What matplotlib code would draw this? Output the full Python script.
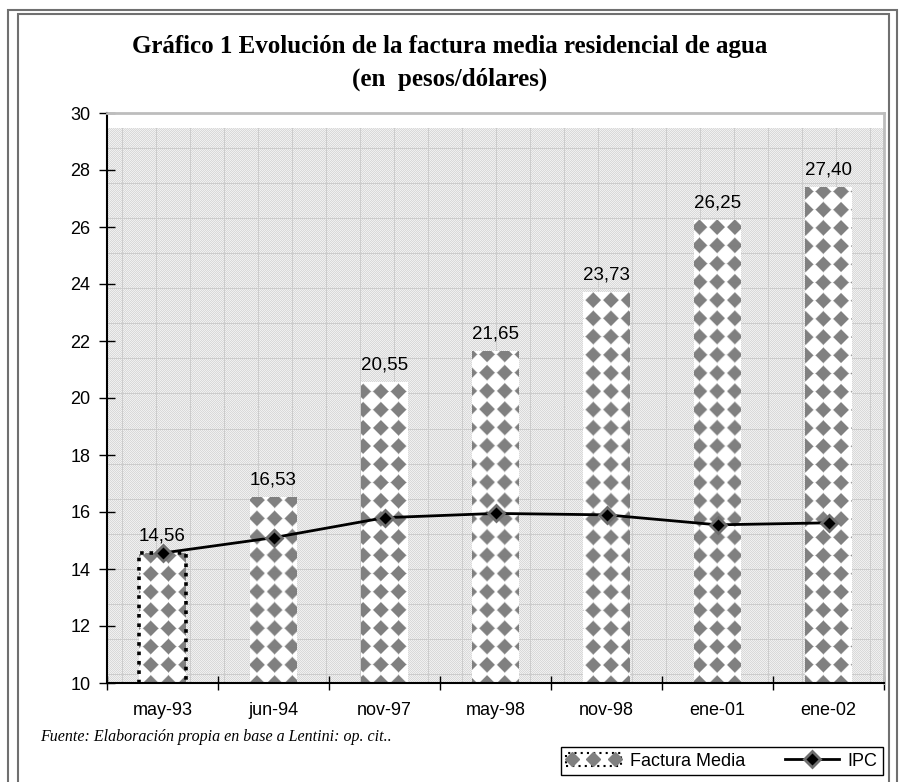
import numpy as np
import matplotlib
matplotlib.use("Agg")
import matplotlib.pyplot as plt
from matplotlib.lines import Line2D
from matplotlib.patches import Rectangle
from matplotlib.legend_handler import HandlerLine2D, HandlerTuple

# data
fechas = ["may-93", "jun-94", "nov-97", "may-98", "nov-98", "ene-01", "ene-02"]
factura = [14.56, 16.53, 20.55, 21.65, 23.73, 26.25, 27.40]
ipc = [14.56, 15.10, 15.80, 15.95, 15.90, 15.55, 15.62]

W, H = 899, 782
fig = plt.figure(figsize=(W / 100, H / 100), dpi=100)
ax = fig.add_axes([107 / W, 1 - 683 / H, (884 - 107) / W, (683 - 113) / H])
ax.set_xlim(-0.5, 6.5)
ax.set_ylim(10, 30)

x = np.arange(len(fechas))


def px_box(x0, x1, y0, y1):
    # data box -> figure pixel box (left, top, width, height), top from figure top
    (a, b), (c, d) = ax.transData.transform([(x0, y0), (x1, y1)])
    return a, H - d, c - a, d - b


# textured plot background (grey dots with a faint grid), white band on top
band_top = 29.44
l, t, w, h = px_box(-0.5, 6.5, 10, band_top)
yy, xx = np.mgrid[0:int(round(h)), 0:int(round(w))]
bg = np.where((xx + yy) % 2 == 0, 0.85, 0.94)
bg[(xx % 34) == 15] = 0.80
bg[(yy % 35) == 20] = 0.80
ax.imshow(bg, cmap="gray", vmin=0, vmax=1, extent=(-0.5, 6.5, 10, band_top),
          aspect="auto", interpolation="nearest", zorder=0)

# bars, then a diamond texture clipped to each bar
bars = ax.bar(x, factura, width=0.42, color="white", edgecolor="none", zorder=2)

for b in bars:
    x0 = b.get_x()
    x1 = x0 + b.get_width()
    top = b.get_height()
    l, t, w, h = px_box(x0, x1, 10, top)
    ny, nx = int(round(h)), int(round(w))
    yy, xx = np.mgrid[0:ny, 0:nx]
    px = xx + l
    py = yy + t
    dx = (px % 17.7) - 8.85
    dy = (py % 18.2) - 9.1
    d = np.abs(dx) + np.abs(dy)
    tex = np.clip(0.5 + (d - 7.0) * 0.3, 0.5, 1.0)
    im = ax.imshow(tex, cmap="gray", vmin=0, vmax=1, extent=(x0, x1, 10, top),
                   aspect="auto", interpolation="bilinear", zorder=2.5)
    im.set_clip_path(b)

# dotted outline on the first bar
ax.bar(x[:1], factura[:1], width=0.42, fill=False, edgecolor="black",
       linestyle=(0, (1, 1.6)), linewidth=2.6, zorder=3)

for xi, v in zip(x, factura):
    ax.text(xi, v + 0.3, f"{v:.2f}".replace(".", ","), ha="center", va="bottom",
            fontsize=13.5, family="Liberation Sans", zorder=5)

ipc_line, = ax.plot(x, ipc, color="black", lw=2, marker="D", markersize=8,
                    markerfacecolor="black", markeredgecolor="#6e6e6e",
                    markeredgewidth=2, zorder=4)

ax.set_xticks(x)
ax.set_xticklabels(fechas, family="Liberation Sans", fontsize=13)
ax.set_xticks(np.arange(-0.5, 7, 1), minor=True)
ax.tick_params(axis="x", which="major", length=0, pad=14)
ax.tick_params(axis="x", which="minor", length=10, direction="inout", width=1)
ax.set_yticks(np.arange(10, 31, 2))
ax.set_yticklabels([str(v) for v in range(10, 31, 2)], family="Liberation Sans",
                   fontsize=13)
ax.tick_params(axis="y", length=12, direction="inout", width=1, pad=6)

ax.spines["left"].set_linewidth(1.5)
ax.spines["bottom"].set_linewidth(1.5)
ax.spines["top"].set_color("#bdbdbd")
ax.spines["top"].set_linewidth(2)
ax.spines["right"].set_color("#bdbdbd")
ax.spines["right"].set_linewidth(2)

# titles and footnote
fig.text(450 / W, 1 - 47 / H, "Gráfico 1 Evolución de la factura media residencial de agua",
         ha="center", va="center", family="Liberation Serif", weight="bold", fontsize=18)
fig.text(450 / W, 1 - 79 / H, "(en  pesos/dólares)",
         ha="center", va="center", family="Liberation Serif", weight="bold", fontsize=18)
fig.text(40 / W, 1 - 737 / H, "Fuente: Elaboración propia en base a Lentini: op. cit..",
         ha="left", va="center", family="Liberation Serif", style="italic", fontsize=11.5)

# outer frames of the chart
for (x0, y0, x1, c) in [(8, 10, 897, "#707070"), (18, 14, 889, "#707070")]:
    fig.patches.append(Rectangle((x0 / W, -0.05), (x1 - x0) / W, 1 - y0 / H + 0.05,
                                 transform=fig.transFigure, fill=False,
                                 edgecolor=c, lw=1.5))

# legend
box = Rectangle((0, 0), 1, 1, facecolor="white", edgecolor="black",
                linestyle=(0, (1, 2)), lw=1.5)
dots = Line2D([], [], linestyle="none", marker="D", markersize=7,
              markerfacecolor="#808080", markeredgecolor="#808080")
leg = fig.legend([(box, dots), ipc_line], ["Factura Media", "IPC"],
                 handler_map={dots: HandlerLine2D(numpoints=3),
                              ipc_line: HandlerLine2D(numpoints=1),
                              tuple: HandlerTuple(ndivide=1)},
                 loc="center", bbox_to_anchor=(722 / W, 1 - 761 / H), ncol=2,
                 prop={"family": "Liberation Sans", "size": 13}, frameon=True,
                 fancybox=False, edgecolor="black", framealpha=1,
                 handlelength=3.0, columnspacing=2.2, handletextpad=0.5,
                 borderpad=0.3)
leg.get_frame().set_linewidth(1)

fig.savefig("out.png", dpi=100)
